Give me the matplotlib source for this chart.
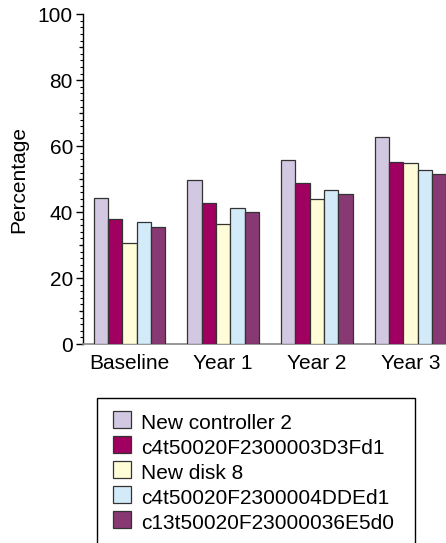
import matplotlib
matplotlib.use("Agg")
import matplotlib.pyplot as plt
from matplotlib.patches import Rectangle
import numpy as np

plt.rcParams['font.family'] = ['Liberation Sans', 'DejaVu Sans']

categories = ["Baseline", "Year 1", "Year 2", "Year 3"]
series_names = ["New controller 2", "c4t50020F2300003D3Fd1", "New disk 8",
                "c4t50020F2300004DDEd1", "c13t50020F23000036E5d0"]
new_controller_2 = [44.2, 49.6, 55.8, 62.9]
c4t_3D3F = [37.9, 42.7, 48.7, 55.2]
new_disk_8 = [30.6, 36.5, 44.1, 54.8]
c4t_4DDE = [37.0, 41.4, 46.8, 52.7]
c13t_36E5 = [35.5, 40.0, 45.5, 51.6]
values = [new_controller_2, c4t_3D3F, new_disk_8, c4t_4DDE, c13t_36E5]
colors = ["#d3c8e1", "#a0005f", "#fffcd8", "#d3eaf9", "#883872"]
y_ticks = [0, 20, 40, 60, 80, 100]

W, H = 446, 543
fig = plt.figure(figsize=(W / 100, H / 100), dpi=100)
ax = fig.add_axes([82.7 / W, 199 / H, 374.7 / W, 329.7 / H])

x = np.arange(len(categories))
bw = 0.153
for i, (vals, c) in enumerate(zip(values, colors)):
    ax.bar(x + (i - 2) * bw, vals, width=bw, color=c, edgecolor="#333333",
           linewidth=0.9, zorder=3)

ax.set_xlim(-0.5, len(categories) - 0.5)
ax.set_ylim(0, 100)
ax.set_yticks(y_ticks)
ax.set_yticks(np.arange(0, 101, 2), minor=True)
ax.set_xticks(x)
ax.set_xticklabels(categories)
ax.tick_params(axis="x", length=0, pad=7, labelsize=15)
ax.tick_params(axis="y", which="major", length=5, width=1, labelsize=15, pad=2)
ax.tick_params(axis="y", which="minor", length=2, width=0.8)
sec = ax.secondary_yaxis("left")
sec.set_yticks([10, 30, 50, 70, 90])
sec.set_yticklabels([])
sec.tick_params(length=3, width=0.9)
sec.spines["left"].set_visible(False)

for s in ["top", "right"]:
    ax.spines[s].set_visible(False)
ax.spines["left"].set_linewidth(1.0)
ax.spines["bottom"].set_color("#888888")
ax.spines["bottom"].set_linewidth(1.2)
ax.set_ylabel("Percentage", fontsize=15, labelpad=7)

# legend box (figure pixel coords converted to fractions)
fig.add_artist(Rectangle((97.3 / W, -5 / H), (415 - 97.3) / W, (543 - 398.3 + 5) / H,
                         transform=fig.transFigure, facecolor="none",
                         edgecolor="black", linewidth=1.0, clip_on=False))
for i, (name, c) in enumerate(zip(series_names, colors)):
    top = 411 + 25 * i
    fig.add_artist(Rectangle((113.3 / W, 1 - (top + 17) / H), 18 / W, 17 / H,
                             transform=fig.transFigure, facecolor=c,
                             edgecolor="#333333", linewidth=0.9))
    fig.text(141 / W, 1 - (429 + 25 * i) / H, name, fontsize=15, va="baseline",
             ha="left")

fig.savefig("out.png", dpi=100)
